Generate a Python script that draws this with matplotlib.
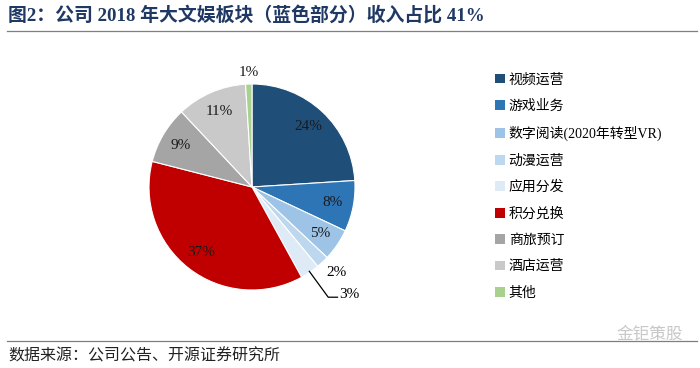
import numpy as np
import matplotlib
matplotlib.use("Agg")
import matplotlib.pyplot as plt
from matplotlib.patches import Patch

plt.rcParams['font.family'] = ['Liberation Serif', 'Noto Sans CJK SC']

categories = ['视频运营', '游戏业务', '数字阅读(2020年转型VR)', '动漫运营', '应用分发',
              '积分兑换', '商旅预订', '酒店运营', '其他']
shares = [24, 8, 5, 2, 3, 37, 9, 11, 1]
labels = ['24%', '8%', '5%', '2%', '3%', '37%', '9%', '11%', '1%']
colors = ['#1F4E79', '#2E75B6', '#9DC3E6', '#BDD7EE', '#DEEBF7',
          '#C00000', '#A5A5A5', '#C9C9C9', '#A9D18E']

fig = plt.figure(figsize=(7, 3.68), dpi=100)

# title and rules
fig.text(0.012, 0.956, '图2：公司 2018 年大文娱板块（蓝色部分）收入占比 41%',
         fontsize=13.6, fontweight='bold', color='#1F3864', va='center', ha='left')
fig.add_artist(plt.Line2D([0.01, 0.995], [0.916, 0.916], color='#7F7F7F', lw=0.9))
fig.add_artist(plt.Line2D([0.01, 0.995], [0.074, 0.074], color='#7F7F7F', lw=0.9))
fig.text(0.012, 0.030, '数据来源：公司公告、开源证券研究所', fontsize=11.5, va='center',
         ha='left', color='#222222')
fig.text(0.928, 0.090, '金钜策股', fontsize=12, va='center', ha='center', color='#C8C8C8')

ax = fig.add_axes([149 / 700, 78 / 368, 206 / 700, 206 / 368])
wedges, _ = ax.pie(shares, colors=colors, startangle=90, counterclock=False, radius=1,
                   wedgeprops=dict(edgecolor='white', linewidth=0.8))
ax.set_xlim(-1, 1)
ax.set_ylim(-1, 1)
ax.set_aspect('equal')
ax.axis('off')

for i, w in enumerate(wedges):
    mid = np.deg2rad((w.theta1 + w.theta2) / 2)
    if labels[i] == '1%':
        r = 1.11
    elif labels[i] == '2%':
        ax.text(0.82, -0.83, labels[i], fontsize=11, ha='center', va='center')
        continue
    elif labels[i] == '3%':
        # leader line
        x0, y0 = 0.99 * np.cos(mid), 0.99 * np.sin(mid)
        ax.plot([x0, 0.74, 0.83], [y0, -1.07, -1.07], color='black', lw=0.9, clip_on=False)
        ax.text(0.85, -1.04, labels[i], fontsize=11, ha='left', va='center')
        continue
    else:
        r = 0.8
    ax.text(r * np.cos(mid), r * np.sin(mid), labels[i], fontsize=11,
            ha='center', va='center', color='#1a1a1a')

handles = [Patch(facecolor=c, edgecolor='none') for c in colors]
fig.legend(handles, categories, loc='upper left', bbox_to_anchor=(0.697, 0.82),
           frameon=False, fontsize=10, handlelength=0.7, handleheight=0.7,
           handletextpad=0.3, labelspacing=0.95, borderpad=0)

fig.savefig('out.png', dpi=100)
